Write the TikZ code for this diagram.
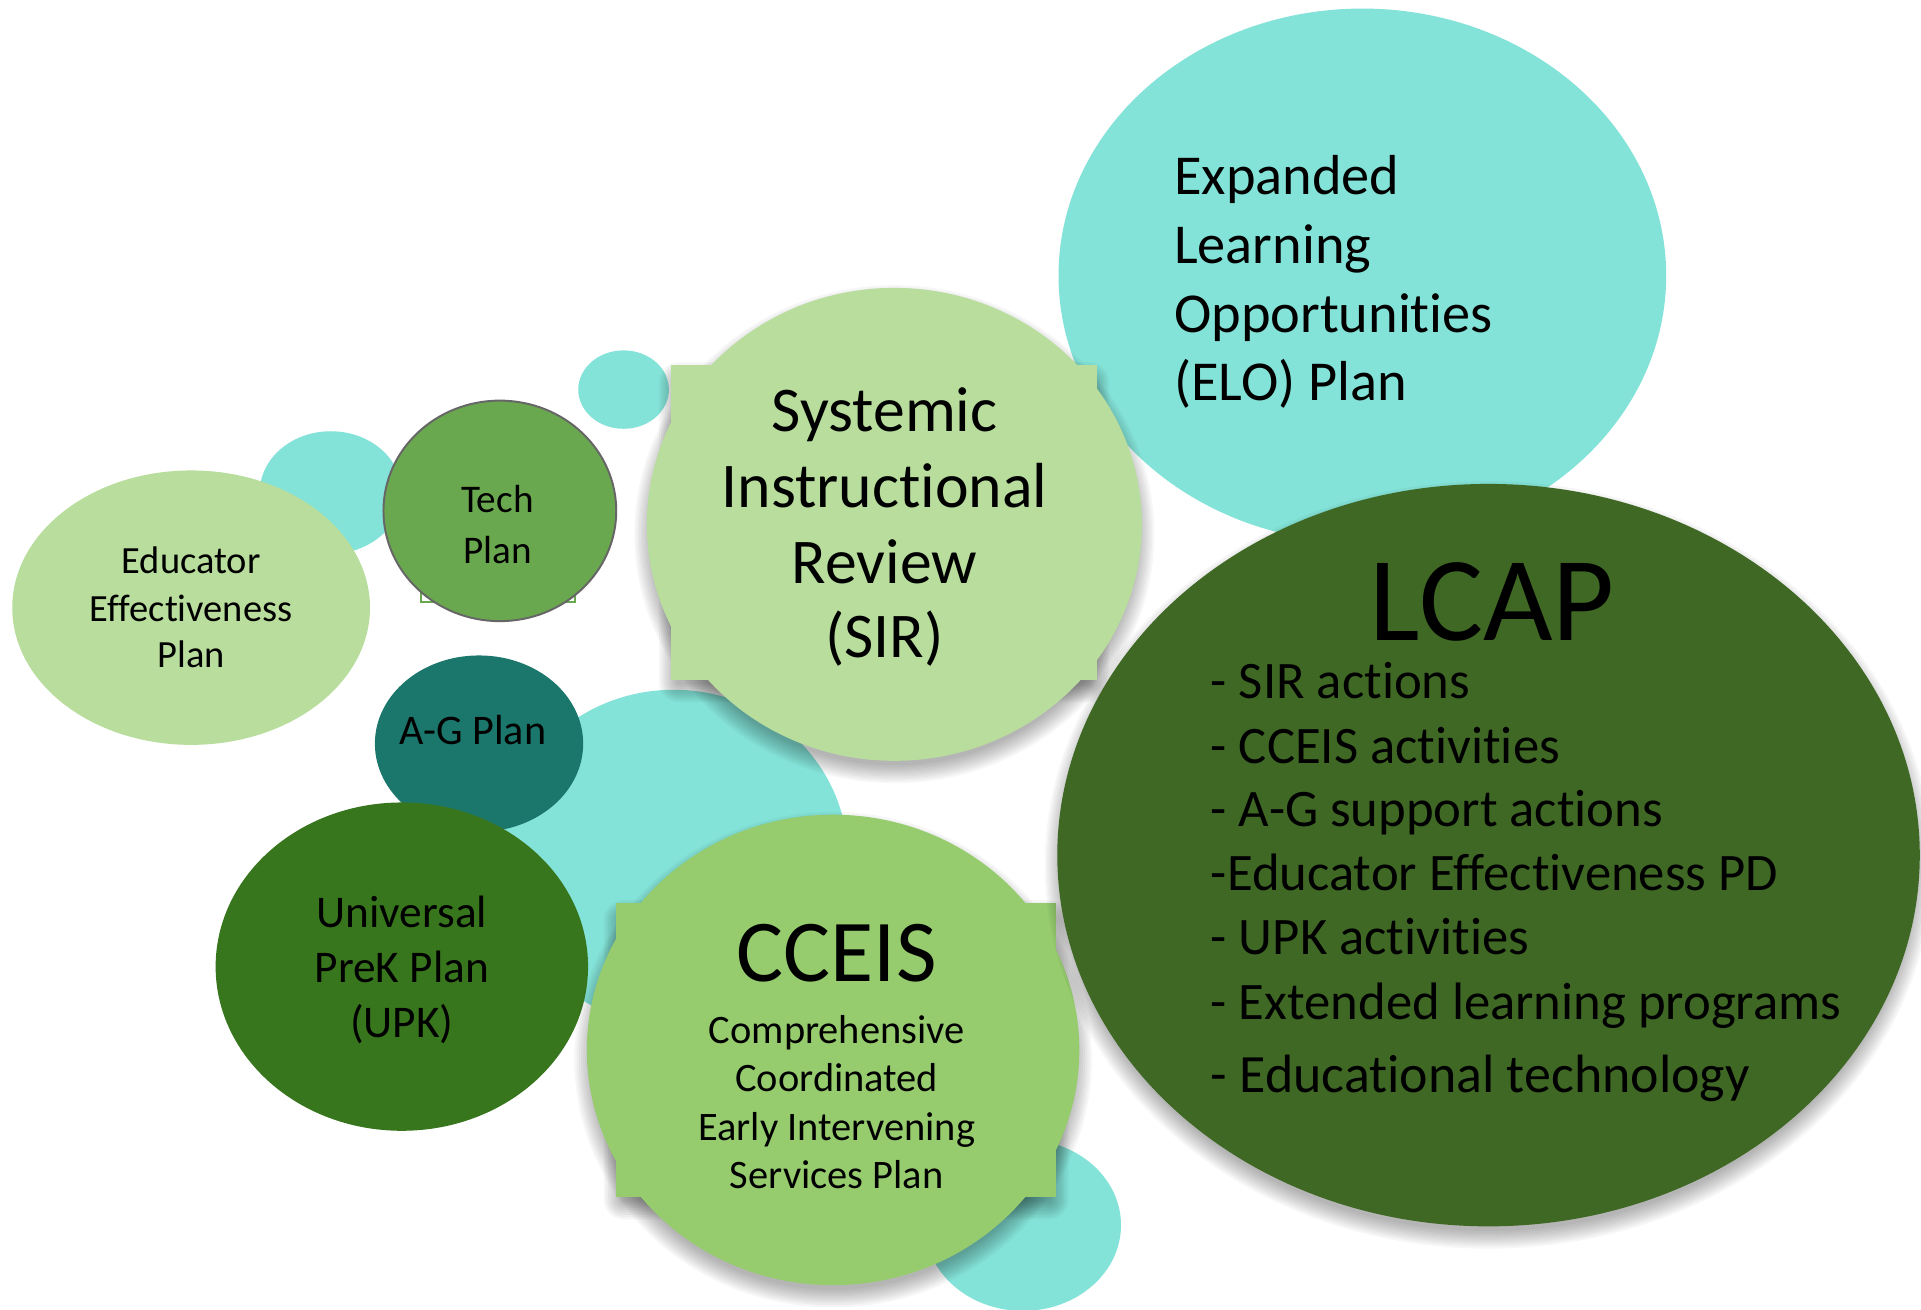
\documentclass[tikz,border=0pt]{standalone}
\usepackage{fontspec}
\setmainfont{Carlito}[Ligatures=NoCommon]
\definecolor{turq}{HTML}{84E3D8}
\definecolor{lightg}{HTML}{B8DD9C}
\definecolor{cceisg}{HTML}{96CC6E}
\definecolor{lcapg}{HTML}{3F6824}
\definecolor{upkg}{HTML}{38761D}
\definecolor{techg}{HTML}{6AA84F}
\definecolor{agteal}{HTML}{1B766C}
\tikzset{
  lbl/.style={inner sep=0pt, anchor=base, text=black},
  lblw/.style={inner sep=0pt, anchor=base west, text=black},
  shdlayer/.style={fill=black, opacity=0.035},
}
% soft shadow for an ellipse: centre x, centre y (px units), x radius, y radius (pt)
\newcommand{\myEllShadow}[4]{%
  \foreach \k in {1,...,9}{%
    \fill[shdlayer] ([yshift=-4pt]#1,#2) ellipse [x radius=#3+\k*0.9pt-3pt, y radius=#4+\k*0.9pt-3pt];
  }}
% soft shadow for a rectangle given by two corners (px units)
\newcommand{\myRectShadow}[4]{%
  \foreach \k in {1,...,9}{%
    \fill[shdlayer, rounded corners=\k*0.9pt] ([xshift=-\k*0.9pt+3pt, yshift=\k*0.9pt-7pt]#1,#2) rectangle ([xshift=\k*0.9pt-3pt, yshift=-\k*0.9pt-1pt]#3,#4);
  }}
\begin{document}
\begin{tikzpicture}[x=0.5pt,y=-0.5pt]
\useasboundingbox (0,0) rectangle (1568,1069);
\fill[white] (0,0) rectangle (1568,1069);
% background turquoise circles
\fill[turq] (270,402) ellipse [x radius=29pt, y radius=25pt];
\fill[turq] (509,318) ellipse [x radius=18.5pt, y radius=16pt];
\fill[turq] (550,700) ellipse [x radius=71pt, y radius=68.5pt];
\fill[turq] (835,1000) ellipse [x radius=40pt, y radius=35pt];
% ELO
\fill[turq] (1112,225) ellipse [x radius=124pt, y radius=109pt];
% Educator
\fill[lightg] (156,496) ellipse [x radius=73pt, y radius=56pt];
% Tech
\draw[techg, line width=0.8pt] (344,400) rectangle (469,491);
\draw[fill=techg, draw=black!60, line width=0.8pt] (408,417) ellipse [x radius=47.5pt, y radius=45pt];
% A-G
\fill[agteal] (391,607) ellipse [x radius=42.5pt, y radius=36pt];
% UPK
\fill[upkg] (328,789) ellipse [x radius=76pt, y radius=67pt];
% SIR
\myEllShadow{730}{428}{101pt}{96.5pt}
\myRectShadow{548}{298}{895}{555}
\fill[lightg] (730,428) ellipse [x radius=101pt, y radius=96.5pt];
\fill[lightg] (548,298) rectangle (895,555);
% CCEIS
\myEllShadow{680}{857}{100.5pt}{96pt}
\myRectShadow{503}{737}{862}{977}
\fill[cceisg] (680,857) ellipse [x radius=100.5pt, y radius=96pt];
\fill[cceisg] (503,737) rectangle (862,977);
% LCAP
\myEllShadow{1215}{698}{176pt}{151.5pt}
\fill[lcapg] (1215,698) ellipse [x radius=176pt, y radius=151.5pt];

% texts
\begin{scope}[font=\fontsize{23}{28}\selectfont]
\node[lblw] (elo1) at (958,159) {Expanded};
\node[lblw] (elo2) at (958,215) {Learning};
\node[lblw] (elo3) at (958,271) {Opportunities};
\node[lblw] (elo4) at (958,327) {(ELO) Plan};
\end{scope}
\begin{scope}[font=\fontsize{15.7}{19}\selectfont]
\node[lbl] (ed1) at (156,468) {Educator};
\node[lbl] (ed2) at (156,507) {Effectiveness};
\node[lbl] (ed3) at (156,545) {Plan};
\end{scope}
\begin{scope}[font=\fontsize{16}{20}\selectfont]
\node[lbl] (tech1) at (406,418) {Tech};
\node[lbl] (tech2) at (406,460) {Plan};
\end{scope}
\node[lbl, font=\fontsize{17.2}{20}\selectfont] (ag) at (386,608) {A-G Plan};
\begin{scope}[font=\fontsize{18.5}{22}\selectfont]
\node[lbl] (upk1) at (328,757) {Universal};
\node[lbl] (upk2) at (328,802) {PreK Plan};
\node[lbl] (upk3) at (328,847) {(UPK)};
\end{scope}
\begin{scope}[font=\fontsize{26}{31}\selectfont]
\node[lbl] (sir1) at (722,352) {Systemic};
\node[lbl] (sir2) at (722,414) {Instructional};
\node[lbl] (sir3) at (722,476) {Review};
\node[lbl] (sir4) at (722,537) {(SIR)};
\end{scope}
\node[lbl, font=\fontsize{36}{40}\selectfont] (cceis) at (683,801) {CCEIS};
\begin{scope}[font=\fontsize{16.5}{20}\selectfont]
\node[lbl] (cc1) at (683,852) {Comprehensive};
\node[lbl] (cc2) at (683,891) {Coordinated};
\node[lbl] (cc3) at (683,931) {Early Intervening};
\node[lbl] (cc4) at (683,970) {Services Plan};
\end{scope}
\node[lbl, font=\fontsize{49}{55}\selectfont] (lcap) at (1218,523) {LCAP};
\begin{scope}[font=\fontsize{21.5}{26}\selectfont]
\node[lblw] (l1) at (988,570) {- SIR actions};
\node[lblw] (l2) at (988,623) {- CCEIS activities};
\node[lblw] (l3) at (988,675) {- A-G support actions};
\node[lblw] (l4) at (988,727) {-Educator Effectiveness PD};
\node[lblw] (l5) at (988,779) {- UPK activities};
\node[lblw] (l6) at (988,832) {- Extended learning programs};
\node[lblw, font=\fontsize{22}{26}\selectfont] (l7) at (988,892) {- Educational technology};
\end{scope}
\end{tikzpicture}
\end{document}
